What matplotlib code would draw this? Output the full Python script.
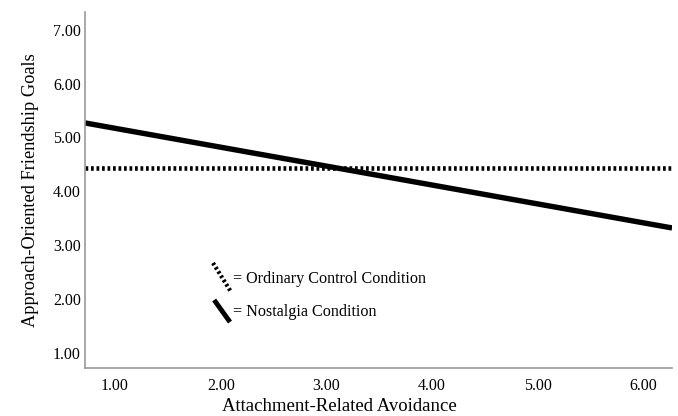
import matplotlib
matplotlib.use("Agg")
import matplotlib.pyplot as plt

plt.rcParams['font.family'] = ['Liberation Serif', 'DejaVu Serif']

# data
avoid_x = [0.716, 6.27]
nostalgia_y = [5.27, 3.32]
control_y = [4.43, 4.43]
xticks = [1, 2, 3, 4, 5, 6]
yticks = [1, 2, 3, 4, 5, 6, 7]
labels = ["= Ordinary Control Condition", "= Nostalgia Condition"]

fig = plt.figure(figsize=(6.78, 4.16), dpi=100)
ax = fig.add_axes([0.1254, 0.1154, 0.8658, 0.8558])

ax.plot(avoid_x, control_y, color='black', linestyle=(0, (0.6, 0.6)), linewidth=3.3)
ax.plot(avoid_x, nostalgia_y, color='black', linewidth=3.9, solid_capstyle='butt')

ax.set_xlim(avoid_x[0], avoid_x[1])
ax.set_ylim(0.72, 7.33)
ax.set_xticks(xticks)
ax.set_yticks(yticks)
ax.set_xticklabels(["%.2f" % v for v in xticks], fontsize=11.5)
ax.set_yticklabels(["%.2f" % v for v in yticks], fontsize=11.5)
ax.tick_params(axis='y', length=0, pad=3)
ax.tick_params(axis='x', length=0, pad=7)

for s in ['top', 'right']:
    ax.spines[s].set_visible(False)
for s in ['left', 'bottom']:
    ax.spines[s].set_color('#999999')
    ax.spines[s].set_linewidth(1.2)

ax.set_xlabel('Attachment-Related Avoidance', fontsize=13.5)
ax.xaxis.set_label_coords(0.434, -0.085)
ax.set_ylabel('Approach-Oriented Friendship Goals', fontsize=13.2, labelpad=10)

# hand-drawn style key
ax.plot([0.218, 0.249], [0.295, 0.213], transform=ax.transAxes, color='black',
        linestyle=(0, (0.6, 0.6)), linewidth=3.0)
ax.plot([0.220, 0.247], [0.191, 0.129], transform=ax.transAxes, color='black',
        linewidth=3.5, solid_capstyle='butt')
ax.text(0.252, 0.25, labels[0], transform=ax.transAxes, fontsize=11.6, va='center')
ax.text(0.252, 0.157, labels[1], transform=ax.transAxes, fontsize=11.6, va='center')

fig.savefig("out.png", dpi=100)
